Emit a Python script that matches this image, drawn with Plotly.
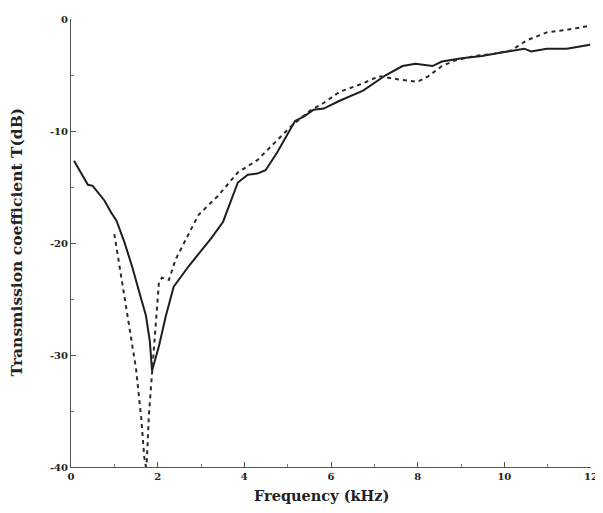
import plotly.graph_objects as go

# Solid curve (measured)
solid_f = [0.07, 0.2, 0.39, 0.5, 0.66, 0.77, 0.93, 1.05, 1.23, 1.41, 1.57, 1.73, 1.82, 1.87,
           2.03, 2.19, 2.37, 2.71, 3.23, 3.51, 3.85, 4.08, 4.3, 4.49, 4.76, 4.99, 5.17, 5.38,
           5.6, 5.83, 6.2, 6.74, 7.27, 7.65, 7.95, 8.34, 8.56, 9.02, 9.48, 9.93, 10.3, 10.46,
           10.62, 10.98, 11.44, 11.98]
solid_t = [-12.65, -13.5, -14.8, -14.9, -15.7, -16.2, -17.3, -18.0, -19.9, -22.1, -24.3, -26.5, -28.8, -31.4,
           -29.2, -26.5, -23.9, -22.1, -19.6, -18.1, -14.6, -13.9, -13.8, -13.5, -11.9, -10.4, -9.1, -8.7,
           -8.1, -8.0, -7.3, -6.4, -5.0, -4.2, -4.0, -4.2, -3.8, -3.5, -3.3, -3.0, -2.8, -2.65,
           -2.9, -2.65, -2.65, -2.3]

# Dashed curve (calculated)
dash_f = [1.0, 1.18, 1.34, 1.5, 1.62, 1.69, 1.73, 1.75, 1.8, 1.87, 1.96, 2.03, 2.1, 2.26, 2.41,
          2.71, 2.94, 3.39, 3.85, 4.3, 4.76, 5.1, 5.51, 5.83, 6.2, 6.74, 7.11, 7.27, 7.56, 8.0,
          8.25, 8.56, 8.86, 9.32, 9.77, 10.16, 10.52, 10.98, 11.44, 11.98]
dash_t = [-19.2, -23.5, -27.3, -31.2, -35.6, -39.1, -40.0, -39.4, -35.2, -31.7, -27.6, -23.5, -23.1, -23.3, -21.5,
          -19.3, -17.5, -15.8, -13.7, -12.6, -10.8, -9.5, -8.2, -7.5, -6.5, -5.75, -5.1, -5.2, -5.4, -5.6,
          -5.1, -4.2, -3.7, -3.3, -3.1, -2.8, -1.9, -1.2, -0.97, -0.6]

x_ticks = [0, 2, 4, 6, 8, 10, 12]
x_ticktext = ["0", "2", "4", "6", "8", "10", "12"]
y_ticks = [0, -10, -20, -30, -40]
y_ticktext = ["0", "-10", "-20", "-30", "-40"]

fig = go.Figure()
fig.add_trace(go.Scatter(x=solid_f, y=solid_t, mode="lines",
                         line=dict(color="#1e1e1e", width=2), showlegend=False))
fig.add_trace(go.Scatter(x=dash_f, y=dash_t, mode="lines",
                         line=dict(color="#2a2a2a", width=2, dash="4px,4px"), showlegend=False))

tickfont = dict(family="DejaVu Serif", size=10, color="#222", weight="bold")
fig.update_layout(
    width=595, height=505,
    margin=dict(l=63, r=5, t=7, b=46),
    paper_bgcolor="white", plot_bgcolor="white",
    xaxis=dict(range=[0, 12], tickvals=x_ticks, ticktext=x_ticktext,
               showgrid=False, zeroline=False, showline=True, linecolor="#555", linewidth=1,
               ticks="inside", ticklen=5, tickcolor="#555", tickfont=tickfont,
               ticklabeloverflow="allow",
               minor=dict(dtick=1, ticks="inside", ticklen=3, tickcolor="#777", showgrid=False)),
    yaxis=dict(range=[-40, 0], tickvals=y_ticks, ticktext=y_ticktext,
               showgrid=False, zeroline=False, showline=True, linecolor="#555", linewidth=1,
               ticks="inside", ticklen=5, tickcolor="#555", tickfont=tickfont,
               ticklabeloverflow="allow",
               minor=dict(dtick=5, ticks="inside", ticklen=3, tickcolor="#777", showgrid=False)),
    annotations=[
        dict(text="Frequency (kHz)", xref="paper", yref="paper", x=0.482, y=-0.064,
             showarrow=False, xanchor="center", yanchor="middle",
             font=dict(family="DejaVu Serif", size=14.5, color="#222", weight="bold")),
        dict(text="Transmission coefficient T(dB)", xref="paper", yref="paper", x=-0.105, y=0.502,
             showarrow=False, xanchor="center", yanchor="middle", textangle=-90,
             font=dict(family="DejaVu Serif", size=15.5, color="#222", weight="bold")),
    ],
)
fig.write_html("out.html")
